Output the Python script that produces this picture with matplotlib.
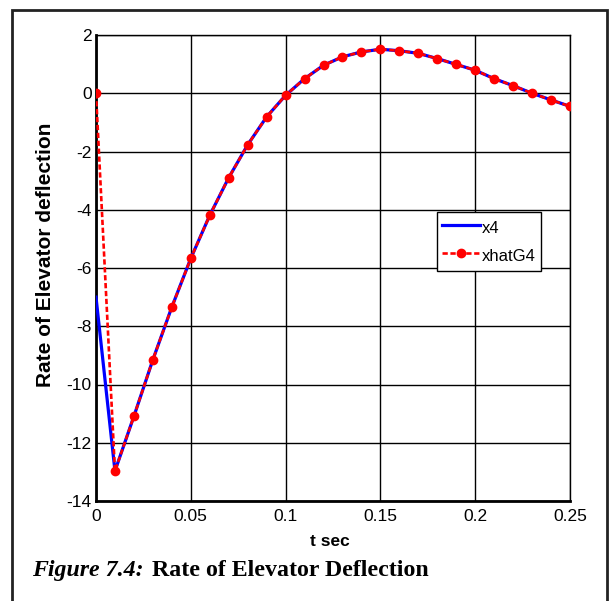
import matplotlib.pyplot as plt
from matplotlib.patches import Rectangle

# time samples (s)
t = [0.00, 0.01, 0.02, 0.03, 0.04, 0.05, 0.06, 0.07, 0.08, 0.09, 0.10, 0.11, 0.12,
     0.13, 0.14, 0.15, 0.16, 0.17, 0.18, 0.19, 0.20, 0.21, 0.22, 0.23, 0.24, 0.25]
# true state x4
x4 = [-7.0, -12.97, -11.09, -9.15, -7.34, -5.67, -4.19, -2.9, -1.77, -0.81, -0.07, 0.5, 0.96,
      1.25, 1.42, 1.51, 1.46, 1.37, 1.19, 0.99, 0.79, 0.5, 0.26, 0.0, -0.23, -0.45]
# estimate xhatG4
xhat = [0.0, -12.97, -11.09, -9.15, -7.34, -5.67, -4.19, -2.9, -1.77, -0.81, -0.07, 0.5, 0.96,
        1.25, 1.42, 1.51, 1.46, 1.37, 1.19, 0.99, 0.79, 0.5, 0.26, 0.0, -0.23, -0.45]

xticks = [0, 0.05, 0.1, 0.15, 0.2, 0.25]
xticklabels = ['0', '0.05', '0.1', '0.15', '0.2', '0.25']
yticks = [-14, -12, -10, -8, -6, -4, -2, 0, 2]

plt.rcParams['font.family'] = ['Liberation Sans', 'DejaVu Sans']
plt.rcParams['axes.unicode_minus'] = False

fig = plt.figure(figsize=(6.13, 6.01), dpi=100)
W, H = 613, 601
ax = fig.add_axes([96 / W, 1 - 501 / H, (570 - 96) / W, (501 - 35) / H])

ax.plot(t, x4, color='#0000ff', linewidth=2.3, label='x4', zorder=3)
ax.plot(t, xhat, color='#ff0000', linewidth=1.9, linestyle=(0, (2, 1)),
        marker='o', markersize=6, label='xhatG4', zorder=4)

ax.set_xlim(0, 0.25)
ax.set_ylim(-14, 2)
ax.set_xticks(xticks)
ax.set_xticklabels(xticklabels)
ax.set_yticks(yticks)
ax.tick_params(length=0, labelsize=12.5)
ax.tick_params(axis='x', pad=6)
ax.tick_params(axis='y', pad=3)
ax.grid(True, color='black', linewidth=1.0)
ax.set_axisbelow(True)
for s in ax.spines.values():
    s.set_linewidth(1.0)
ax.spines['left'].set_linewidth(2.0)
ax.spines['bottom'].set_linewidth(2.0)

ax.set_xlabel('t sec', fontsize=12.5, fontweight='bold', va='center')
ax.xaxis.set_label_coords((330 - 96) / 474, -(541 - 501) / 466)
ax.set_ylabel('Rate of Elevator deflection', fontsize=15, fontweight='bold', va='center')
ax.yaxis.set_label_coords(-(96 - 46) / 474, (501 - 255) / 466)

leg = ax.legend(loc='upper left', bbox_to_anchor=((437 - 96) / 474, (501 - 212) / 466),
                fontsize=12, handlelength=2.3, handleheight=1.55, handletextpad=0.1,
                borderpad=0.3, labelspacing=0.45, fancybox=False, framealpha=1,
                borderaxespad=0)
leg.get_frame().set_edgecolor('black')
leg.get_frame().set_linewidth(1.0)

# outer frame around the figure
fig.patches.append(Rectangle((12 / W, -0.05), (607 - 12) / W, 1 - 10 / H + 0.05,
                             transform=fig.transFigure, fill=False,
                             edgecolor='#222222', linewidth=2.0, clip_on=False))

# caption
fig.text(32 / W, 1 - 576 / H, 'Figure 7.4:', family='Liberation Serif', fontsize=17.2,
         fontweight='bold', style='italic', va='baseline')
fig.text(152 / W, 1 - 576 / H, 'Rate of Elevator Deflection', family='Liberation Serif',
         fontsize=17.2, fontweight='bold', va='baseline')

fig.savefig('out.png', dpi=100)
